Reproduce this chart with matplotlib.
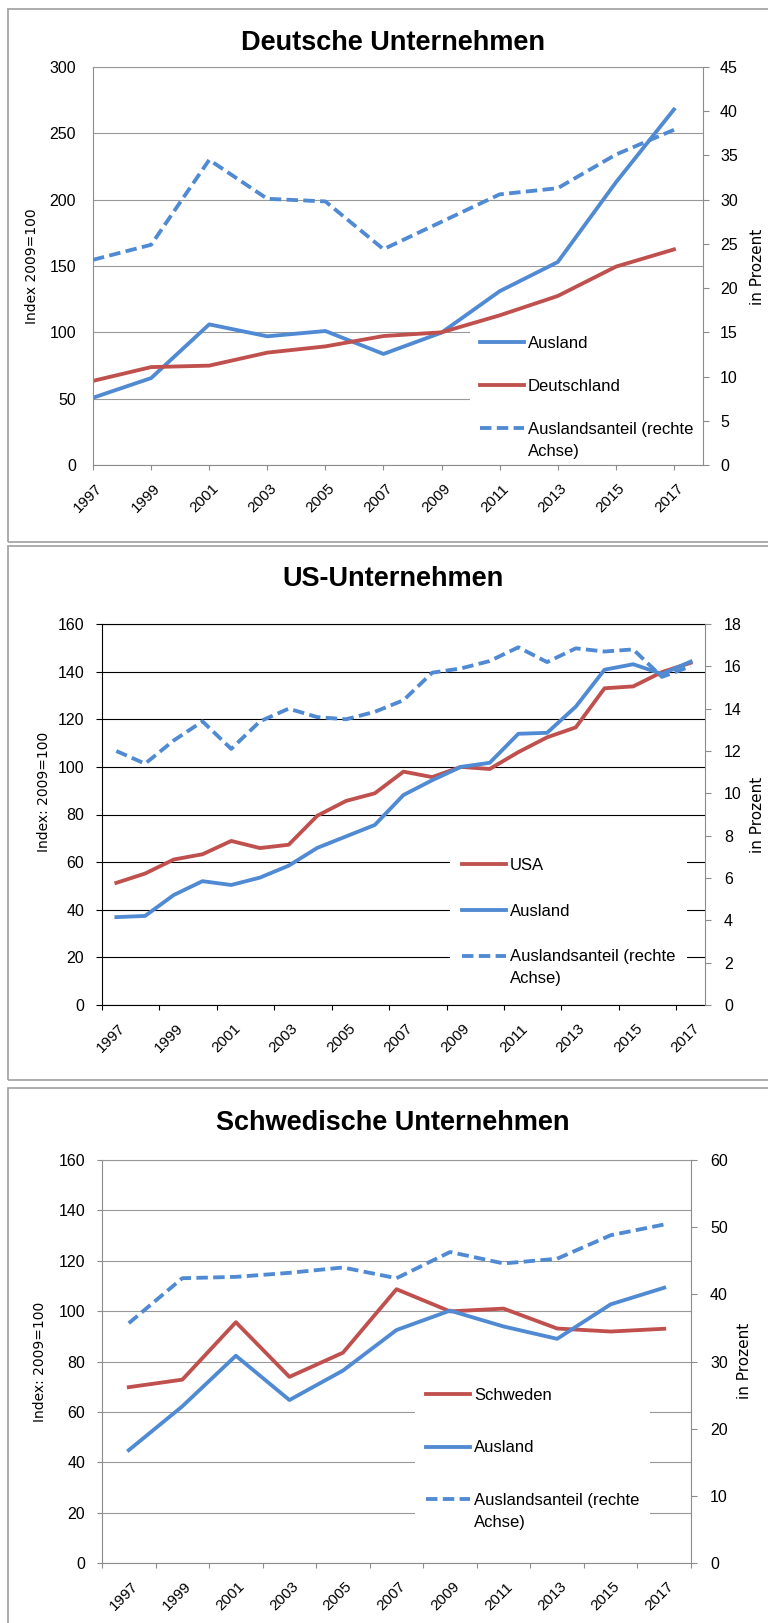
import numpy as np
import matplotlib
matplotlib.use("Agg")
import matplotlib.pyplot as plt
from matplotlib.patches import Rectangle

W, H = 768, 1623
plt.rcParams['font.family'] = ['Liberation Sans', 'DejaVu Sans']

BLUE = '#4F8AD3'
RED = '#C0504D'
GRAY = '#8C8C8C'
LW = 2.75
DASH = (3.0, 1.4)
LEG_FS = 12

# Deutsche Unternehmen (alle zwei Jahre)
de_years = [1997, 1999, 2001, 2003, 2005, 2007, 2009, 2011, 2013, 2015, 2017]
de_ausland = [50.7, 65.5, 106, 97, 101, 83.7, 99.8, 131, 153, 213, 268]
de_inland = [63.4, 73.8, 74.9, 84.7, 89.4, 97.2, 100, 112.8, 127.4, 149.5, 162.5]
de_anteil = [23.2, 24.9, 34.5, 30.1, 29.8, 24.4, 27.5, 30.6, 31.3, 35.1, 37.9]

# US-Unternehmen (jaehrlich)
us_years = list(range(1997, 2018))
us_inland = [51.3, 55.2, 61.1, 63.3, 68.9, 65.9, 67.3, 79.5, 85.7, 88.9, 98.0,
             95.7, 100, 99.1, 106.2, 112.4, 116.6, 133.0, 133.8, 139.8, 143.7]
us_ausland = [36.9, 37.4, 46.2, 52.0, 50.4, 53.5, 58.5, 66.0, 70.8, 75.6, 88.2,
              94.4, 100, 101.7, 113.9, 114.3, 125.3, 140.8, 143.1, 139.0, 144.2]
us_anteil = [12.0, 11.4, 12.5, 13.4, 12.1, 13.4, 14.0, 13.6, 13.5, 13.85, 14.4,
             15.7, 15.9, 16.25, 16.9, 16.2, 16.85, 16.7, 16.8, 15.5, 16.0]

# Schwedische Unternehmen (alle zwei Jahre)
se_years = [1997, 1999, 2001, 2003, 2005, 2007, 2009, 2011, 2013, 2015, 2017]
se_inland = [69.8, 72.8, 95.6, 73.9, 83.5, 108.7, 99.9, 101.0, 93.1, 91.9, 93.0]
se_ausland = [44.8, 62.2, 82.3, 64.7, 76.4, 92.5, 100.2, 93.9, 89.0, 102.7, 109.3]
se_anteil = [35.7, 42.4, 42.6, 43.2, 44.0, 42.4, 46.3, 44.6, 45.3, 48.8, 50.4]

fig = plt.figure(figsize=(W / 100, H / 100), dpi=100)


def fx(x):
    return x / W


def fy(y):
    return 1 - y / H


def add_axes(left, top, right, bottom):
    return fig.add_axes([fx(left), fy(bottom), (right - left) / W, (bottom - top) / H])


def frame(top, bottom):
    fig.add_artist(Rectangle((fx(8), fy(bottom)), (W + 10) / W, (bottom - top) / H,
                             transform=fig.transFigure, fill=False,
                             ec='#A6A6A6', lw=1.3))


def style(ax, ax2, grid, axis_col, ymax, ystep, rmax, rstep, lticks, lpad, rpad):
    ax.set_ylim(0, ymax)
    ax.set_yticks(np.arange(0, ymax + 1, ystep))
    ax2.set_ylim(0, rmax)
    ax2.set_yticks(np.arange(0, rmax + 0.1, rstep))
    ax.set_axisbelow(True)
    ax.yaxis.grid(True, color=grid, lw=0.8)
    for s in ['left', 'bottom']:
        ax.spines[s].set_color(axis_col)
        ax.spines[s].set_linewidth(0.8)
    ax.spines['top'].set_color(grid)
    ax.spines['top'].set_linewidth(0.8)
    ax.spines['right'].set_visible(False)
    for s in ['left', 'bottom', 'top']:
        ax2.spines[s].set_visible(False)
    ax2.spines['right'].set_color(GRAY)
    ax2.spines['right'].set_linewidth(0.8)
    ax.tick_params(axis='y', length=lticks, color=axis_col, pad=lpad, labelsize=11.5)
    ax2.tick_params(axis='y', length=4.3, color=GRAY, pad=rpad, labelsize=11.5)


def x_axis(ax, ticks, label_pos, labels, xmax, width_px, axis_col):
    ax.set_xlim(0, xmax)
    ax.set_xticks(ticks)
    ax.tick_params(axis='x', which='major', labelbottom=False, length=3.6,
                   color=axis_col)
    shift = 7 * xmax / width_px
    ax.set_xticks([p + shift for p in label_pos], minor=True)
    ax.set_xticklabels([str(y) for y in labels], minor=True, rotation=45,
                       ha='right', va='center', rotation_mode='anchor')
    ax.tick_params(axis='x', which='minor', length=0, pad=15.5, labelsize=11)


def legend(ax, handles, labels, left, top, pad, spacing):
    fs = LEG_FS * 100 / 72
    leg = ax.legend(handles, labels, loc='upper left',
                    bbox_to_anchor=(fx(left), fy(top)), bbox_transform=fig.transFigure,
                    borderaxespad=0, frameon=True, facecolor='white', edgecolor='none',
                    framealpha=1, fancybox=False, fontsize=LEG_FS,
                    borderpad=pad / fs, handlelength=44 / fs, handletextpad=4 / fs,
                    labelspacing=spacing)
    leg.set_zorder(1.5)
    ax.annotate('Achse)', xy=(0, 0), xycoords=leg.get_texts()[2],
                xytext=(0, -5), textcoords='offset points',
                ha='left', va='top', fontsize=LEG_FS)


def texts(title, base_y, ylab, ly, lx, rx, ry):
    fig.text(fx(393), fy(base_y), title, ha='center', va='baseline',
             fontsize=19.5, fontweight='bold')
    fig.text(fx(lx), fy(ly), ylab, rotation=90, ha='center', va='center',
             fontsize=10, family='DejaVu Sans')
    fig.text(fx(rx), fy(ry), 'in Prozent', rotation=90, ha='center', va='center',
             fontsize=11, family='DejaVu Sans')


# ---- Deutsche Unternehmen ----
frame(9, 542)
ax = add_axes(93, 67, 703, 465)
ax2 = ax.twinx()
x = np.arange(len(de_years))
l1, = ax.plot(x, de_ausland, color=BLUE, lw=LW, zorder=2)
l2, = ax.plot(x, de_inland, color=RED, lw=LW, zorder=2)
l3, = ax2.plot(x, de_anteil, color=BLUE, lw=LW, dashes=DASH)
style(ax, ax2, '#999999', GRAY, 300, 50, 45, 5, 0, 12.2, 8)
x_axis(ax, x, x, de_years, len(de_years) - 0.5, 610, GRAY)
legend(ax, [l1, l2, l3], ['Ausland', 'Deutschland', 'Auslandsanteil (rechte'],
       470, 326, 10, 1.68)
texts('Deutsche Unternehmen', 50, 'Index 2009=100', 266, 32, 757, 267)

# ---- US-Unternehmen ----
frame(546, 1080)
ax = add_axes(102, 624, 705, 1005)
ax2 = ax.twinx()
x = np.arange(len(us_years)) + 0.5
l1, = ax.plot(x, us_inland, color=RED, lw=LW, zorder=2)
l2, = ax.plot(x, us_ausland, color=BLUE, lw=LW, zorder=2)
l3, = ax2.plot(x, us_anteil, color=BLUE, lw=LW, dashes=DASH)
style(ax, ax2, '#000000', '#000000', 160, 20, 18, 2, 4.3, 8.6, 9.4)
x_axis(ax, np.arange(0, len(us_years), 2), x[::2], us_years[::2],
       len(us_years), 603, '#000000')
legend(ax, [l1, l2, l3], ['USA', 'Ausland', 'Auslandsanteil (rechte'],
       450, 846, 12, 1.84)
texts('US-Unternehmen', 586.5, 'Index: 2009=100', 792, 44, 758, 815)

# ---- Schwedische Unternehmen ----
frame(1088, H + 10)
ax = add_axes(102, 1160, 691, 1563)
ax2 = ax.twinx()
x = np.arange(len(se_years)) + 0.5
l1, = ax.plot(x, se_inland, color=RED, lw=LW, zorder=2)
l2, = ax.plot(x, se_ausland, color=BLUE, lw=LW, zorder=2)
l3, = ax2.plot(x, se_anteil, color=BLUE, lw=LW, dashes=DASH)
style(ax, ax2, '#999999', GRAY, 160, 20, 60, 10, 3.6, 8.6, 9.4)
x_axis(ax, np.arange(0, len(se_years) + 1), x, se_years, len(se_years), 589, GRAY)
legend(ax, [l1, l2, l3], ['Schweden', 'Ausland', 'Auslandsanteil (rechte'],
       415, 1377, 11, 2.24)
texts('Schwedische Unternehmen', 1130, 'Index: 2009=100', 1362, 40, 744.5, 1361)

fig.savefig('out.png', dpi=100)
